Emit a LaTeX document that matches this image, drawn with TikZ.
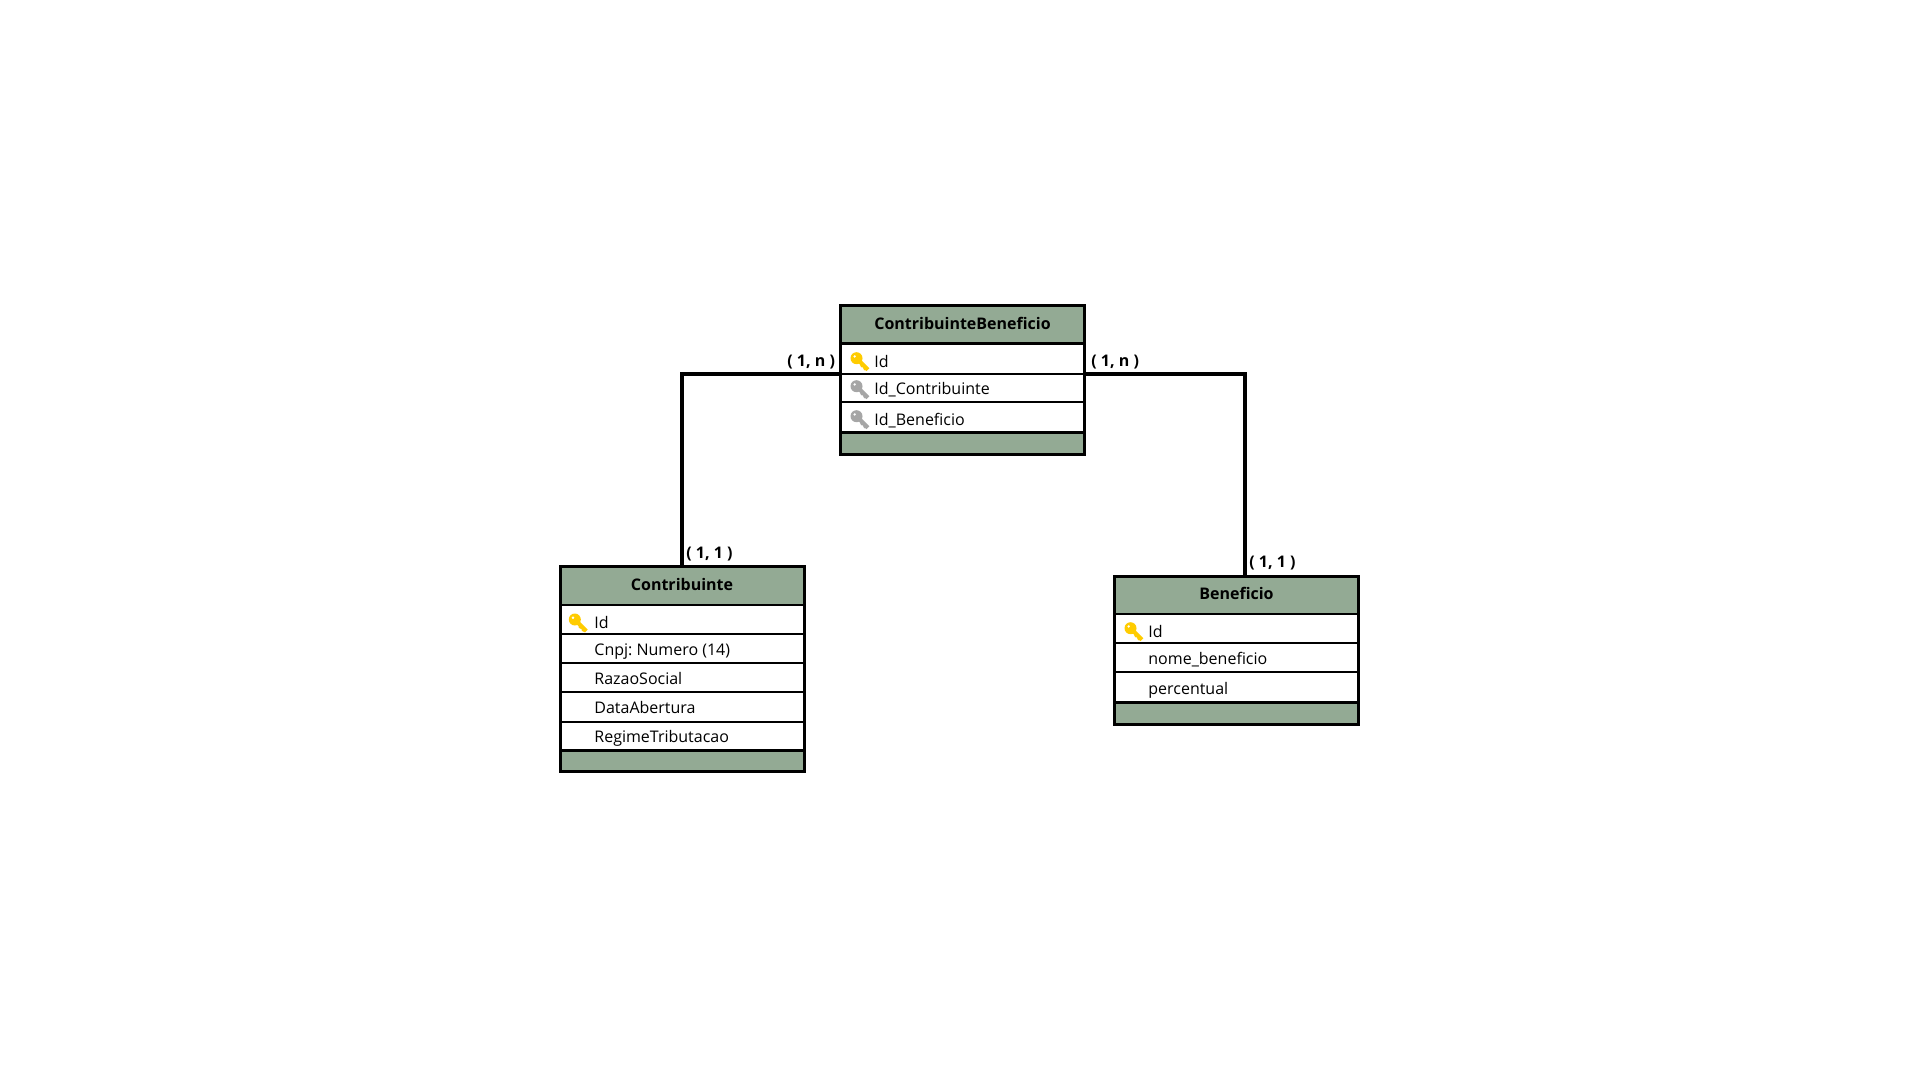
\documentclass[tikz,border=0pt]{standalone}
\usepackage{fontspec}
\setmainfont{Open Sans}
\frenchspacing
\definecolor{entitygreen}{HTML}{93AA94}
\definecolor{keyyellow}{HTML}{FFCC00}
\definecolor{keygrey}{HTML}{A6A6A6}
\tikzset{%
	entity head/.style={
		rectangle,
		draw=black,
		line width=1.5pt,
		fill=entitygreen,
		minimum width=122pt,
		outer sep=0pt
	},
	entity row/.style={
		rectangle,
		draw=black,
		line width=1pt,
		fill=white,
		minimum width=122pt,
		outer sep=0pt
	},
	entity text/.style={
		anchor=base west,
		inner sep=0pt,
		font=\fontsize{8}{10}\selectfont
	},
	entity title/.style={
		anchor=base,
		inner sep=0pt,
		font=\fontsize{8}{10}\selectfont\bfseries
	},
	card label/.style={
		anchor=base west,
		inner sep=0pt,
		font=\fontsize{8}{10}\selectfont\bfseries
	},
	relation/.style={
		draw=black,
		line width=2pt
	},
	key icon/.pic={
		\fill[#1,even odd rule] (6,6) circle (6) (4.2,4.2) circle (1.6);
		\draw[#1,line width=2pt] (8,8) -- (17.5,17.5);
		\draw[#1,line width=1.3pt] (12.5,12.5) -- (10.5,14.5) (15.5,15.5) -- (13.5,17.5);
	}
}
\begin{document}
\begin{tikzpicture}[x=0.5pt,y=-0.5pt]
		\useasboundingbox (0,0) rectangle (1920,1080);
		
		% ContribuinteBeneficio
		\node [entity head,minimum height=19pt] (cb-head) at (962.5,325) {};
		\foreach \m/\ya/\yb/\ybase/\txt in {1/344/374/367/Id,2/374/402.3/394.3/Id\_Contribuinte,3/402.3/432.3/425/Id\_Beneficio}{
			\node [entity row,minimum height={(\yb-\ya)*0.5pt}] (cb-\m) at (962.5,{(\ya+\yb)/2}) {};
			\node [entity text] (cb-text-\m) at (874,\ybase) {\txt};
		}
		\node [entity head,minimum height=11.2pt] (cb-foot) at (962.5,443.5) {};
		\draw [line width=1.5pt] (cb-head.north west) rectangle (cb-foot.south east);
		\node [entity title] (cb-title) at (962.5,329) {ContribuinteBeneficio};
		\pic at (850.5,352.2) {key icon=keyyellow};
		\pic at (850.5,380.2) {key icon=keygrey};
		\pic at (850.5,410.2) {key icon=keygrey};
		
		% Contribuinte
		\node [entity head,minimum height=19.2pt] (contrib-head) at (682,586) {};
		\foreach \m/\ya/\yb/\ybase/\txt in {1/605/634.3/628/Id,2/634.3/663.3/655/Cnpj: Numero (14),3/663.3/692.3/684/RazaoSocial,4/692.3/721.7/713/DataAbertura,5/721.7/750.7/742.5/RegimeTributacao}{
			\node [entity row,minimum height={(\yb-\ya)*0.5pt}] (contrib-\m) at (682,{(\ya+\yb)/2}) {};
			\node [entity text] (contrib-text-\m) at (594,\ybase) {\txt};
		}
		\node [entity head,minimum height=10.5pt] (contrib-foot) at (682,761.2) {};
		\draw [line width=1.5pt] (contrib-head.north west) rectangle (contrib-foot.south east);
		\node [entity title] (contrib-title) at (682,590) {Contribuinte};
		\pic at (568.8,613.5) {key icon=keyyellow};
		
		% Beneficio
		\node [entity head,minimum height=18.8pt] (benef-head) at (1236.5,595.5) {};
		\foreach \m/\ya/\yb/\ybase/\txt in {1/614.3/643.3/637.3/Id,2/643.3/672.3/664.3/nome\_beneficio,3/672.3/702.3/694/percentual}{
			\node [entity row,minimum height={(\yb-\ya)*0.5pt}] (benef-\m) at (1236.5,{(\ya+\yb)/2}) {};
			\node [entity text] (benef-text-\m) at (1148,\ybase) {\txt};
		}
		\node [entity head,minimum height=11.3pt] (benef-foot) at (1236.5,713.6) {};
		\draw [line width=1.5pt] (benef-head.north west) rectangle (benef-foot.south east);
		\node [entity title] (benef-title) at (1236.5,599) {Beneficio};
		\pic at (1124.5,622.2) {key icon=keyyellow};
		
		%Edges
		\coordinate (benef-top) at (1245,576.7);
		\draw [relation] (cb-1.south west) -| (contrib-head.north);
		\draw [relation] (cb-1.south east) -| (benef-top);
		
		\node [card label] (card-left-n) at (787,366) {( 1, n )};
		\node [card label] (card-right-n) at (1091,366) {( 1, n )};
		\node [card label] (card-left-one) at (686,558) {( 1, 1 )};
		\node [card label] (card-right-one) at (1249,567.7) {( 1, 1 )};
		
\end{tikzpicture}
\end{document}
